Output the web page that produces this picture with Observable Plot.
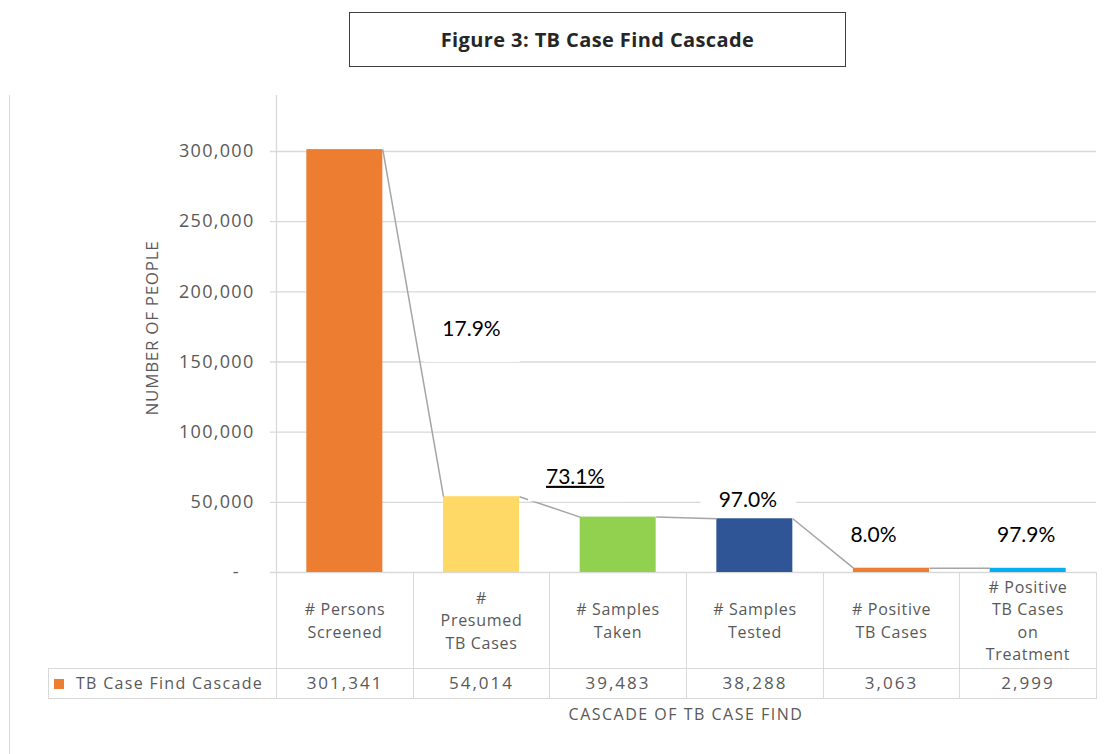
<!DOCTYPE html>
<html>
<head>
<meta charset="utf-8">
<script src="https://cdn.jsdelivr.net/npm/d3@7"></script>
<script src="https://cdn.jsdelivr.net/npm/@observablehq/plot@0.6"></script>
<style>
  body { margin: 0; background: #fff; font-family: "Open Sans", sans-serif; }
  #wrap { position: relative; width: 1110px; height: 754px; overflow: hidden; background: #fff; }
  #title { position: absolute; left: 349px; top: 12px; width: 497px; height: 55px; box-sizing: border-box;
           border: 1px solid #3f3f3f; display: flex; align-items: center; justify-content: center;
           font-weight: 700; font-size: 20px; color: #262626; letter-spacing: 0.4px; }
  #border { position: absolute; left: 9px; top: 95px; width: 1px; height: 659px; background: #d9d9d9; }
  #chart { position: absolute; left: 0; top: 80px; }
  .cell { position: absolute; box-sizing: border-box; border: 1px solid #d9d9d9; display: flex;
          align-items: center; justify-content: center; text-align: center; color: #595959;
          font-size: 16px; letter-spacing: 0.7px; white-space: pre-line; line-height: 22.5px; }
  .value { font-size: 17px; letter-spacing: 2px; }
  .legend { justify-content: flex-start; padding-left: 5px; letter-spacing: 1.3px; }
  .swatch { display: inline-block; width: 10px; height: 10px; margin-right: 12px; }
  #xtitle { position: absolute; top: 703px; text-align: center; color: #595959; font-size: 16px; letter-spacing: 1.5px; }
</style>
</head>
<body>
<div id="wrap">
  <div id="title"></div>
  <div id="chart"></div>
  <div id="border"></div>
  <div id="xtitle"></div>
</div>
<script>
// ---- data ----
const titleText = "Figure 3: TB Case Find Cascade";
const seriesName = "TB Case Find Cascade";
const yTitle = "NUMBER OF PEOPLE";
const xTitle = "CASCADE OF TB CASE FIND";
const categories = [
  "# Persons\nScreened",
  "#\nPresumed\nTB Cases",
  "# Samples\nTaken",
  "# Samples\nTested",
  "# Positive\nTB Cases",
  "# Positive\nTB Cases\non\nTreatment"
];
const values = [301341, 54014, 39483, 38288, 3063, 2999];
const barColors = ["#ED7D31", "#FFD966", "#92D050", "#2F5597", "#ED7D31", "#00B0F0"];
const yTicks = [0, 50000, 100000, 150000, 200000, 250000, 300000];

// ---- layout (styling only) ----
const labelOffsets = [
  {dx: -10, dy: -167}, {dx: -43, dy: -40}, {dx: -7, dy: -19}, {dx: -18, dy: -33}, {dx: -2, dy: -33}
];
const boxBottom = [34, 26, 9, 12, 12];
const underlined = [false, true, false, false, false];
const half = 0.278;

const data = categories.map((c, i) => ({i, category: c, value: values[i], color: barColors[i]}));
const steps = d3.range(values.length - 1).map(i => ({i, from: values[i], to: values[i + 1], pct: values[i + 1] / values[i]}));
const pctFmt = d3.format(".1%");
const numFmt = d3.format(",");
const pctTexts = steps.map(s => pctFmt(s.pct));

document.getElementById("title").textContent = titleText;

const plotHeight = 492;
const plot = Plot.plot({
  width: 1110,
  height: plotHeight,
  marginLeft: 276,
  marginRight: 14,
  marginTop: 15,
  marginBottom: 0,
  x: {type: "linear", domain: [-0.5, categories.length - 0.5], axis: null},
  y: {domain: [0, 300000], range: [plotHeight, 71]},
  color: {type: "identity"},
  style: {fontFamily: "'Open Sans', sans-serif", background: "transparent", overflow: "visible"},
  marks: [
    Plot.ruleY(yTicks, {stroke: "#d9d9d9", strokeWidth: 1.3, insetLeft: -6}),
    Plot.ruleX([-0.5], {stroke: "#d9d9d9", strokeWidth: 1.3}),
    Plot.axisY(yTicks, {
      label: null, tickSize: 0, tickPadding: 22, fontSize: 18, fill: "#595959",
      tickFormat: d => d === 0 ? "-\u2002\u2009" : numFmt(d)
    }),
    Plot.rect(data, {x1: d => d.i - half, x2: d => d.i + half, y1: 0, y2: "value", fill: "color"}),
    Plot.link(steps, {x1: d => d.i + half, y1: "from", x2: d => d.i + 1 - half, y2: "to", stroke: "#a5a5a5", strokeWidth: 1.5}),
    ...steps.map((s, k) => Plot.text([s], {
      x: d => d.i + 1, y: "to", text: d => pctFmt(d.pct),
      dx: labelOffsets[k].dx, dy: labelOffsets[k].dy,
      fontSize: 21, fontFamily: "Lato, sans-serif", fill: "#000"
    })),
    Plot.text([yTitle], {frameAnchor: "left", textAnchor: "middle", rotate: -90, dx: -124, dy: -6, fontSize: 17, fill: "#595959"})
  ]
});

document.getElementById("chart").append(plot);
const svg = d3.select(plot);
svg.selectAll('g[aria-label="y-axis tick label"] text').attr("letter-spacing", "1.3px");
svg.selectAll("text").filter(function () { return this.textContent === yTitle; }).attr("letter-spacing", "0.7px");

svg.selectAll("text").filter(function () { return pctTexts.includes(this.textContent); }).each(function () {
  const k = pctTexts.indexOf(this.textContent);
  const t = d3.select(this);
  if (underlined[k]) t.style("text-decoration", "underline").attr("text-decoration", "underline");
  const bb = this.getBBox();
  const cy = bb.y + bb.height / 2;
  d3.select(this.parentNode).insert("rect", () => this)
    .attr("transform", t.attr("transform"))
    .attr("x", bb.x - 18)
    .attr("width", bb.width + 37)
    .attr("y", bb.y - 8)
    .attr("height", cy + boxBottom[k] - (bb.y - 8))
    .attr("fill", "#fff")
    .attr("stroke", "none");
});

// ---- data table below the plot ----
const xs = plot.scale("x");
const wrap = document.getElementById("wrap");
const top0 = 80 + plotHeight;
const top1 = top0 + 96;
const bottom = top1 + 30;
function addCell(left, top, width, height, content, cls) {
  const d = document.createElement("div");
  d.className = "cell" + (cls ? " " + cls : "");
  Object.assign(d.style, {left: left + "px", top: top + "px", width: width + "px", height: height + "px"});
  if (typeof content === "string") d.textContent = content; else d.append(content);
  wrap.append(d);
}
categories.forEach((c, i) => {
  const l = Math.round(xs.apply(i - 0.5)), r = Math.round(xs.apply(i + 0.5));
  addCell(l, top0, r - l + 1, top1 - top0 + 1, c);
  addCell(l, top1, r - l + 1, bottom - top1 + 1, numFmt(values[i]), "value");
});
const leftEdge = Math.round(xs.apply(-0.5));
const leg = document.createElement("span");
const sw = document.createElement("span");
sw.className = "swatch";
sw.style.background = barColors[0];
leg.append(sw, document.createTextNode(seriesName));
addCell(48, top1, leftEdge - 48 + 1, bottom - top1 + 1, leg, "legend");

const xt = document.getElementById("xtitle");
xt.textContent = xTitle;
xt.style.left = leftEdge + "px";
xt.style.width = (Math.round(xs.apply(categories.length - 0.5)) - leftEdge) + "px";
</script>
</body>
</html>
